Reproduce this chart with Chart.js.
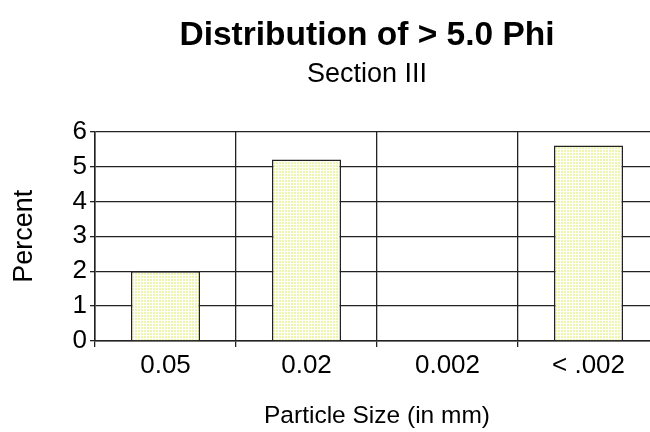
<!DOCTYPE html>
<html>
<head>
<meta charset="utf-8">
<script src="https://cdn.jsdelivr.net/npm/chart.js@4"></script>
<style>
  html, body { margin: 0; padding: 0; background: #fff; overflow: hidden; }
  #wrap { width: 734px; height: 432px; }
</style>
</head>
<body>
<div id="wrap"><canvas id="chart" width="734" height="432"></canvas></div>
<script>
// Particle size classes and their share in percent
const sizes = ["0.05", "0.02", "0.002", "< .002"];
const percent = [2.0, 5.2, 0, 5.6];
const yTicks = [0, 1, 2, 3, 4, 5, 6];

const FONT = "'Liberation Sans', Arial, sans-serif";
const INK = "#222";

// pale yellow dotted fill, like the scanned original
function dotPattern() {
  const c = document.createElement("canvas");
  c.width = 3;
  c.height = 3;
  const g = c.getContext("2d");
  g.fillStyle = "#fdfef4";
  g.fillRect(0, 0, 3, 3);
  g.fillStyle = "#eef4b4";
  g.fillRect(0, 0, 2, 2);
  return g.createPattern(c, "repeat");
}

const ctx = document.getElementById("chart").getContext("2d");
new Chart(ctx, {
  type: "bar",
  data: {
    labels: sizes,
    datasets: [{
      data: percent,
      backgroundColor: dotPattern(),
      borderColor: INK,
      borderWidth: 1.5,
      barPercentage: 0.49,
      categoryPercentage: 1
    }]
  },
  options: {
    responsive: false,
    animation: false,
    layout: { padding: 0 },
    plugins: {
      legend: { display: false },
      tooltip: { enabled: false },
      title: {
        display: true,
        text: "Distribution of > 5.0 Phi",
        color: "#000",
        font: { family: FONT, size: 33.5, weight: "bold" },
        padding: { top: 16, bottom: 0 }
      },
      subtitle: {
        display: true,
        text: "Section III",
        color: "#000",
        font: { family: FONT, size: 27 },
        padding: { top: 2, bottom: 41 }
      }
    },
    scales: {
      x: {
        afterFit: s => { s.height = 91; },
        grid: { color: INK, lineWidth: 1.3, tickLength: 6, offset: true },
        border: { color: INK, width: 1.5 },
        ticks: { color: "#000", padding: 3, font: { family: FONT, size: 26 } },
        title: {
          display: true,
          text: "Particle Size (in mm)",
          color: "#000",
          font: { family: FONT, size: 24.5 },
          padding: { top: 0, bottom: 1 }
        }
      },
      y: {
        min: yTicks[0],
        max: yTicks[yTicks.length - 1],
        afterFit: s => { s.width = 95; },
        afterBuildTicks: s => { s.ticks = yTicks.map(v => ({ value: v })); },
        grid: { color: INK, lineWidth: 1.3, tickLength: 5 },
        border: { color: INK, width: 1.5 },
        ticks: { color: "#000", padding: 3, font: { family: FONT, size: 26 } },
        title: {
          display: true,
          text: "Percent",
          color: "#000",
          font: { family: FONT, size: 27 },
          padding: { top: 8, bottom: 0 }
        }
      },
      // empty right margin so the titles centre where the original has them
      margin: {
        type: "linear",
        position: "right",
        afterFit: s => { s.width = 75; },
        grid: { display: false },
        border: { display: false },
        ticks: { display: false }
      }
    }
  }
});
</script>
</body>
</html>
